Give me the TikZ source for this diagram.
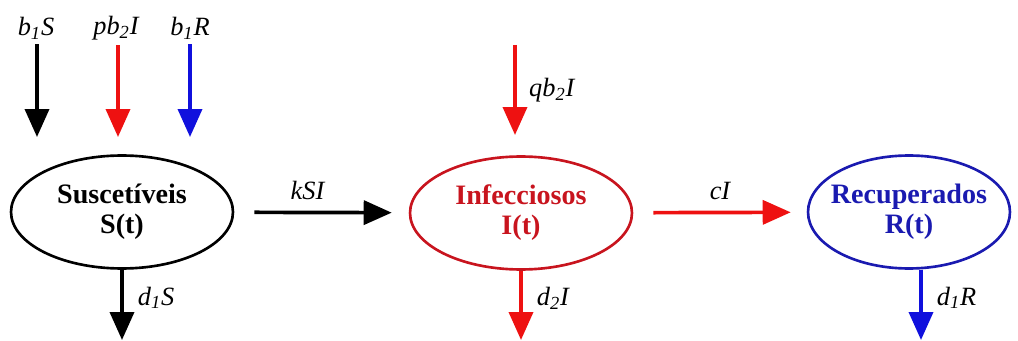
\documentclass[tikz,border=0pt]{standalone}
\usepackage{fontspec}
\setmainfont{Liberation Serif}
\usetikzlibrary{arrows.meta,shapes.geometric}
\definecolor{redx}{HTML}{EE1111}
\definecolor{darkredx}{HTML}{C8141E}
\definecolor{bluex}{HTML}{1010DD}
\definecolor{navyx}{HTML}{1A1AB0}
\tikzset{
  flow/.style={-{Triangle[length=5.6mm,width=4.8mm]},line width=2.1pt},
  comp/.style={ellipse,draw,line width=1.5pt,minimum width=4.44cm,minimum height=2.26cm,inner sep=0pt,align=center,font=\fontsize{16}{17}\selectfont\bfseries},
  rate/.style={font=\fontsize{15}{17}\selectfont\itshape,inner sep=1pt}
}

\begin{document}
\begin{tikzpicture}[x=0.02cm,y=-0.02cm]
\useasboundingbox (0,0) rectangle (1018,341);
% compartments
\node[comp] (S) at (122,212) {Suscetíveis\\S(t)};
\node[comp,draw=darkredx,text=darkredx] (I) at (521,213) {Infecciosos\\I(t)};
\node[comp,draw=navyx,text=navyx,minimum width=4.04cm,inner sep=-4pt] (R) at (909,212) {Recuperados\\R(t)};
% births into S
\node[rate] (bS) at (36,28) {b\textsubscript{1}S};
\node[rate] (pI) at (116,28) {pb\textsubscript{2}I};
\node[rate] (bR) at (190,28) {b\textsubscript{1}R};
\coordinate (tS) at (37,137);
\coordinate (tI) at (118,137);
\coordinate (tR) at (190,137);
\draw[flow,shorten <=0.06cm] (bS.south -| tS) -- (tS);
\draw[flow,redx,shorten <=0.06cm] (pI.south -| tI) -- (tI);
\draw[flow,bluex,shorten <=0.06cm] (bR.south) -- (tR);
% births into I
\coordinate (qtop) at (515,45);
\coordinate (qtip) at (515,135);
\draw[flow,redx] (qtop) -- (qtip) node[midway,right=6pt,rate,text=black]{qb\textsubscript{2}I};
% transitions
\draw[flow,shorten <=0.4cm,shorten >=0.34cm] (S) -- (I) node[pos=0.42,above=5pt,rate]{kSI};
\draw[flow,redx,shorten <=0.4cm,shorten >=0.32cm] (I) -- (R) node[midway,above=5pt,rate,text=black]{cI};
% deaths
\coordinate (dS) at (122,340);
\coordinate (dI) at (521,340);
\coordinate (dR) at (921,340);
\draw[flow] (S.south) -- (dS) node[pos=0.4,right=7pt,rate]{d\textsubscript{1}S};
\draw[flow,redx] (I.south) -- (dI) node[pos=0.4,right=7pt,rate,text=black]{d\textsubscript{2}I};
\draw[flow,bluex] (R.south -| dR) -- (dR) node[pos=0.4,right=7pt,rate,text=black]{d\textsubscript{1}R};
\end{tikzpicture}
\end{document}
